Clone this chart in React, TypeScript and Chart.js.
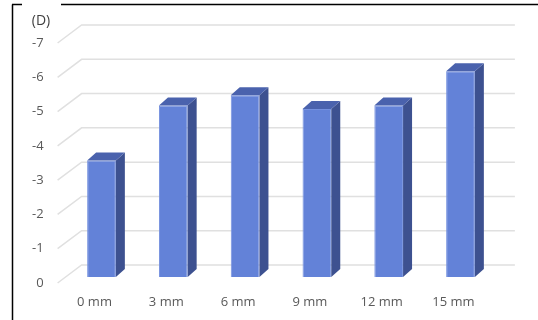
import React, { useEffect, useRef } from "react";
import { Chart, registerables } from "chart.js";

Chart.register(...registerables);

const categories = ["0 mm", "3 mm", "6 mm", "9 mm", "12 mm", "15 mm"];
const values = [-3.4, -5.0, -5.3, -4.9, -5.0, -6.0];
const yTicks = [0, -1, -2, -3, -4, -5, -6, -7];
const unitLabel = "(D)";

const DX = 9; // bar depth offset x
const DY = 8; // bar depth offset y

const threeD = {
  id: "threeD",
  beforeDatasetsDraw(chart: any) {
    const { ctx, chartArea, scales } = chart;
    const y = scales.y;
    ctx.save();
    ctx.strokeStyle = "#e0e0e0";
    ctx.lineWidth = 1.5;
    for (const v of yTicks) {
      const py = y.getPixelForValue(v);
      const backY = py - 12;
      const frontY = py + 6;
      ctx.beginPath();
      ctx.moveTo(chartArea.left - 8, frontY);
      ctx.lineTo(chartArea.left + 16, backY);
      ctx.lineTo(chartArea.right + 18.5, backY);
      ctx.stroke();
    }
    ctx.restore();
  },
  afterDatasetsDraw(chart: any) {
    const { ctx } = chart;
    const meta = chart.getDatasetMeta(0);
    ctx.save();
    for (const bar of meta.data) {
      const p = bar.getProps(["x", "y", "base", "width"], true);
      const left = p.x - p.width / 2;
      const right = p.x + p.width / 2;
      const top = Math.min(p.y, p.base);
      const bottom = Math.max(p.y, p.base);
      // side face
      ctx.fillStyle = "#3d5190";
      ctx.beginPath();
      ctx.moveTo(right, top);
      ctx.lineTo(right + DX, top - DY);
      ctx.lineTo(right + DX, bottom - DY);
      ctx.lineTo(right, bottom);
      ctx.closePath();
      ctx.fill();
      // top face
      ctx.fillStyle = "#4a62ad";
      ctx.beginPath();
      ctx.moveTo(left, top);
      ctx.lineTo(left + DX, top - DY);
      ctx.lineTo(right + DX, top - DY);
      ctx.lineTo(right, top);
      ctx.closePath();
      ctx.fill();
    }
    ctx.restore();
  },
  afterDraw(chart: any) {
    const { ctx } = chart;
    ctx.save();
    ctx.strokeStyle = "#000000";
    ctx.lineWidth = 1.5;
    ctx.beginPath();
    ctx.moveTo(12.5, 4.5);
    ctx.lineTo(12.5, 320);
    ctx.moveTo(12, 4.5);
    ctx.lineTo(22, 4.5);
    ctx.moveTo(61, 4.5);
    ctx.lineTo(538, 4.5);
    ctx.stroke();
    ctx.fillStyle = "#404040";
    ctx.font = "14px 'Open Sans', sans-serif";
    ctx.textAlign = "center";
    ctx.textBaseline = "middle";
    ctx.fillText(unitLabel, 41, 21);
    ctx.restore();
  },
};

export default function App() {
  const ref = useRef<HTMLCanvasElement>(null);
  useEffect(() => {
    if (!ref.current) return;
    const chart = new Chart(ref.current, {
      type: "bar",
      data: {
        labels: categories,
        datasets: [
          {
            data: values,
            backgroundColor: "#6382d8",
            borderColor: "#7591df",
            borderWidth: 1,
            barPercentage: 0.8,
            categoryPercentage: 0.5,
          },
        ],
      },
      options: {
        animation: false,
        responsive: false,
        maintainAspectRatio: false,
        layout: { padding: { left: 0, right: 41.6, top: 37, bottom: 0 } },
        plugins: { legend: { display: false }, tooltip: { enabled: false } },
        scales: {
          x: {
            grid: { display: false, drawTicks: false },
            border: { display: false },
            ticks: {
              color: "#595959",
              font: { family: "'Open Sans', sans-serif", size: 13 },
              padding: 17,
              labelOffset: -7,
              maxRotation: 0,
            },
            afterFit: (s: any) => {
              s.height = 43;
            },
          },
          y: {
            reverse: true,
            min: -7,
            max: 0,
            grid: { display: false, drawTicks: false },
            border: { display: false },
            ticks: {
              stepSize: 1,
              color: "#595959",
              font: { family: "'Open Sans', sans-serif", size: 13 },
              padding: 22,
              labelOffset: 6,
            },
            afterFit: (s: any) => {
              s.width = 65.6;
            },
          },
        },
      },
      plugins: [threeD],
    });
    return () => chart.destroy();
  }, []);
  return (
    <div style={{ position: "absolute", left: 0, top: 0, width: 538, height: 320, background: "#fff" }}>
      <canvas ref={ref} width={538} height={320} style={{ width: 538, height: 320 }} />
    </div>
  );
}
